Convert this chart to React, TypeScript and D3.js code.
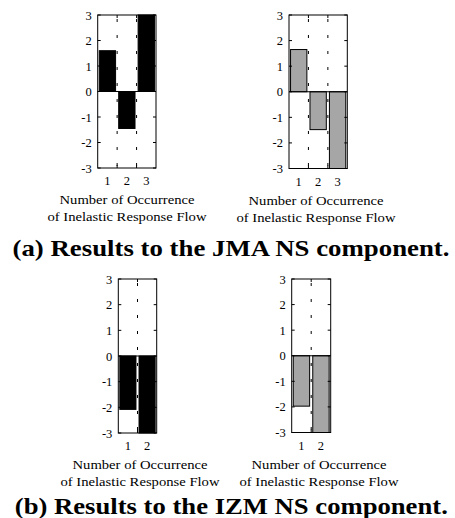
import React from 'react';
import * as d3 from 'd3';

// Values
const yTicks = [-3, -2, -1, 0, 1, 2, 3];
const jmaCounts = [1, 2, 3];
const jmaBlack = [1.6, -1.45, 3];
const jmaGray = [1.65, -1.48, -3];
const izmCounts = [1, 2];
const izmBlack = [-2.08, -3];
const izmGray = [-1.97, -3];
const xTitle1 = 'Number of Occurrence';
const xTitle2 = 'of Inelastic Response Flow';
const captionA = '(a) Results to the JMA NS component.';
const captionB = '(b) Results to the IZM NS component.';

const FONT = "'Liberation Serif', 'Times New Roman', Times, serif";

interface PanelProps {
  counts: number[];
  values: number[];
  fill: string;
  box: { x0: number; x1: number; y0: number; y1: number };
  labelCenter: number;
}

function Panel({ counts, values, fill, box, labelCenter }: PanelProps) {
  const n = counts.length;
  const x = d3.scaleLinear().domain([0.5, n + 0.5]).range([box.x0, box.x1]);
  const y = d3.scaleLinear().domain([-3, 3]).range([box.y1, box.y0]);
  const half = 0.42;
  const grid = d3.range(1, n).map((i) => i + 0.5);

  return (
    <g>
      {/* dotted grid between bars */}
      {grid.map((g) => (
        <line
          key={'g' + g}
          x1={x(g)}
          x2={x(g)}
          y1={box.y0}
          y2={box.y1}
          stroke="#000"
          strokeWidth={1}
          strokeDasharray="3,13"
          strokeDashoffset={-4}
        />
      ))}
      {/* bars */}
      {counts.map((c, i) => {
        const v = values[i];
        return (
          <rect
            key={'b' + c}
            x={x(c - half)}
            width={x(c + half) - x(c - half)}
            y={Math.min(y(v), y(0))}
            height={Math.abs(y(v) - y(0))}
            fill={fill}
            stroke="#000"
            strokeWidth={1}
          />
        );
      })}
      {/* zero line */}
      <line x1={box.x0} x2={box.x1} y1={y(0)} y2={y(0)} stroke="#000" strokeWidth={1} />
      {/* box */}
      <rect
        x={box.x0}
        y={box.y0}
        width={box.x1 - box.x0}
        height={box.y1 - box.y0}
        fill="none"
        stroke="#000"
        strokeWidth={1}
      />
      {/* y ticks */}
      {yTicks.map((t) => (
        <g key={'y' + t}>
          <line x1={box.x0} x2={box.x0 + 3} y1={y(t)} y2={y(t)} stroke="#000" />
          <line x1={box.x1} x2={box.x1 - 3} y1={y(t)} y2={y(t)} stroke="#000" />
          <text
            x={box.x0 - 6}
            y={y(t) + 4.5}
            textAnchor="end"
            style={{ fontSize: '12.5px', fontFamily: FONT }}
          >
            {t}
          </text>
        </g>
      ))}
      {/* x ticks at grid positions */}
      {grid.map((g) => (
        <g key={'xt' + g}>
          <line x1={x(g)} x2={x(g)} y1={box.y1} y2={box.y1 - 3} stroke="#000" />
          <line x1={x(g)} x2={x(g)} y1={box.y0} y2={box.y0 + 3} stroke="#000" />
        </g>
      ))}
      {counts.map((c) => (
        <text
          key={'xl' + c}
          x={x(c)}
          y={box.y1 + 17}
          textAnchor="middle"
          style={{ fontSize: '12.5px', fontFamily: FONT }}
        >
          {c}
        </text>
      ))}
      <text
        x={labelCenter}
        y={box.y1 + 36}
        textAnchor="middle"
        style={{ fontSize: '13px', fontFamily: FONT }}
        textLength={135}
        lengthAdjust="spacingAndGlyphs"
      >
        {xTitle1}
      </text>
      <text
        x={labelCenter}
        y={box.y1 + 53}
        textAnchor="middle"
        style={{ fontSize: '13px', fontFamily: FONT }}
        textLength={159}
        lengthAdjust="spacingAndGlyphs"
      >
        {xTitle2}
      </text>
    </g>
  );
}

export default function App() {
  return (
    <svg
      width={455}
      height={518}
      style={{ position: 'absolute', left: 0, top: 0, background: '#fff' }}
    >
      <Panel
        counts={jmaCounts}
        values={jmaBlack}
        fill="#000"
        box={{ x0: 97.7, x1: 156, y0: 15, y1: 168 }}
        labelCenter={127}
      />
      <Panel
        counts={jmaCounts}
        values={jmaGray}
        fill="#a6a6a6"
        box={{ x0: 289, x1: 347.3, y0: 15, y1: 168.5 }}
        labelCenter={316}
      />
      <text
        x={231}
        y={255.5}
        textAnchor="middle"
        style={{ fontSize: '23px', fontWeight: 'bold', fontFamily: FONT }}
        textLength={437}
        lengthAdjust="spacingAndGlyphs"
      >
        {captionA}
      </text>
      <Panel
        counts={izmCounts}
        values={izmBlack}
        fill="#000"
        box={{ x0: 118.3, x1: 156.7, y0: 279, y1: 433 }}
        labelCenter={140}
      />
      <Panel
        counts={izmCounts}
        values={izmGray}
        fill="#a6a6a6"
        box={{ x0: 291.7, x1: 330.7, y0: 279, y1: 432.5 }}
        labelCenter={319}
      />
      <text
        x={231.3}
        y={514}
        textAnchor="middle"
        style={{ fontSize: '23px', fontWeight: 'bold', fontFamily: FONT }}
        textLength={433}
        lengthAdjust="spacingAndGlyphs"
      >
        {captionB}
      </text>
    </svg>
  );
}
